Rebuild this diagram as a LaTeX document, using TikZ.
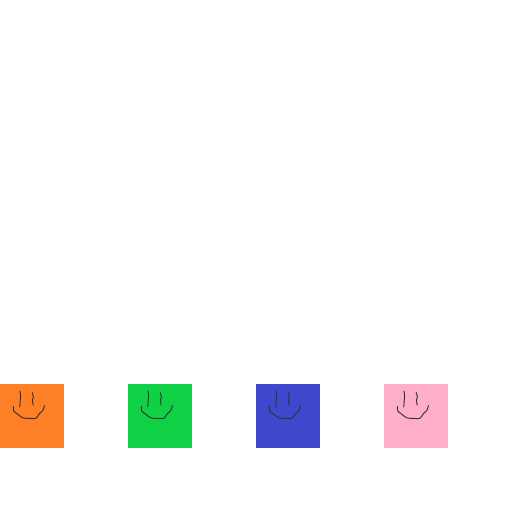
\documentclass[tikz,border=0pt]{standalone}
\definecolor{faceorange}{RGB}{255,127,39}
\definecolor{facegreen}{RGB}{14,209,69}
\definecolor{faceblue}{RGB}{63,72,204}
\definecolor{facepink}{RGB}{255,174,201}
\definecolor{inkline}{RGB}{50,50,50}
\tikzset{
  x=1pt,y=-1pt,
  tile/.style={fill=#1,draw=none},
  ink/.style={draw=inkline,line width=0.95pt,line cap=round,line join=round},
  smile/.pic={
    \draw[ink] (20,391) -- (20.6,396) -- (20.2,401) -- (19.8,407);
    \draw[ink] (32.2,392.5) -- (33.4,396.5) -- (32.4,400.5) -- (33.2,405);
    \draw[ink] plot[smooth,tension=0.45] coordinates {(13.3,406.5) (13.8,411) (17.5,414) (22.7,417.8) (29,418.4) (36,418.2) (39.5,413.5) (42.8,410.5) (44.5,405.5)};
  }
}
\begin{document}
\begin{tikzpicture}
\useasboundingbox (0,0) rectangle (512,512);
\fill[tile=faceorange] (0,384) rectangle (64,448);
\fill[tile=facegreen] (128,384) rectangle (192,448);
\fill[tile=faceblue] (256,384) rectangle (320,448);
\fill[tile=facepink] (384,384) rectangle (448,448);
\pic at (0,0) {smile};
\pic at (128,0) {smile};
\pic at (256,0) {smile};
\pic at (384,0) {smile};
\end{tikzpicture}
\end{document}
